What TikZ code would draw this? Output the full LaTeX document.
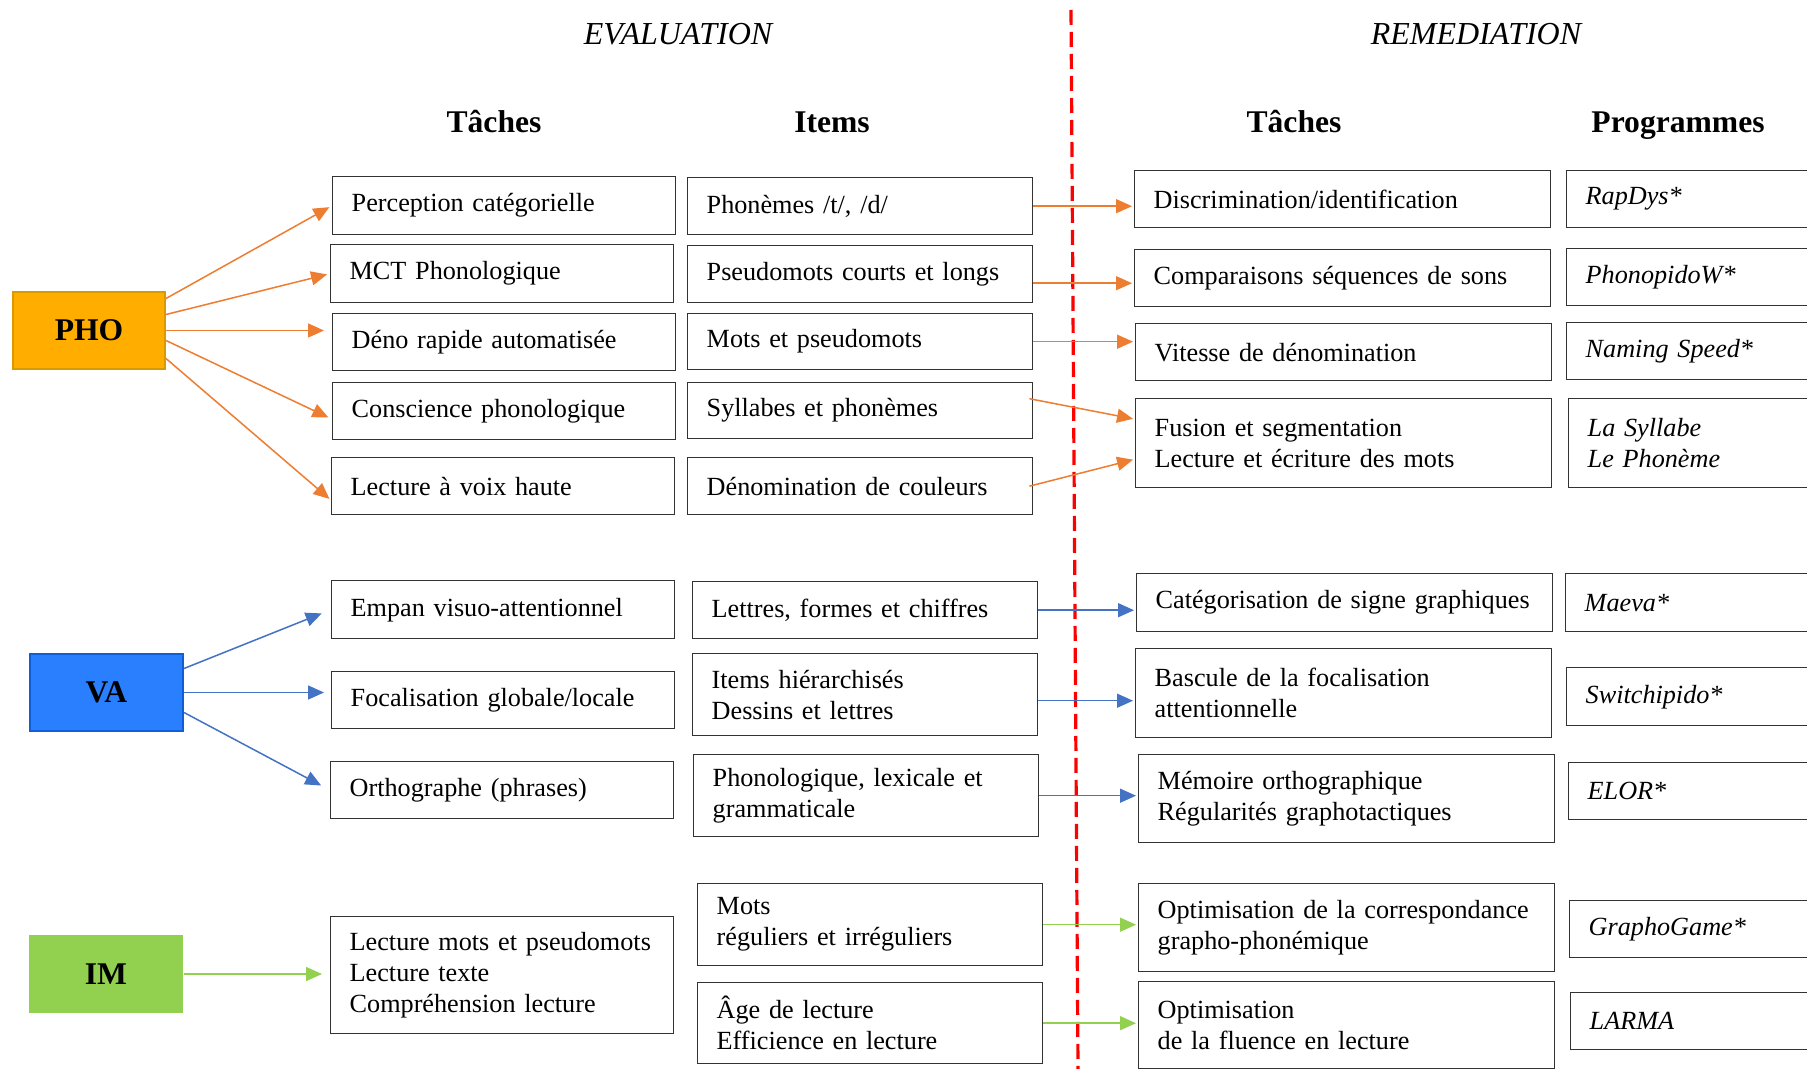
\documentclass[tikz,border=0pt]{standalone}
\usepackage{fontspec}
\setmainfont{Liberation Serif}
\usetikzlibrary{arrows.meta,calc}
\definecolor{orangeF}{HTML}{ED7D31}
\definecolor{bleuF}{HTML}{4472C4}
\definecolor{vertF}{HTML}{92D050}
\definecolor{phoFond}{HTML}{FFAE00}
\definecolor{phoBord}{HTML}{D99A00}
\definecolor{vaFond}{HTML}{2A7FFF}
\definecolor{vaBord}{HTML}{0F5FD6}
\newcommand{\corps}{\fontsize{13.1pt}{15.5pt}\selectfont}
\tikzset{
  cadre/.style={rectangle,draw=black!80,line width=0.7pt,anchor=north west,align=left,inner xsep=9.5pt,inner ysep=0pt,font=\corps,
    execute at begin node={\hyphenpenalty=10000\exhyphenpenalty=10000}},
  tache/.style={cadre,text width=152.5pt},
  itembox/.style={cadre,text width=153.5pt},
  remed/.style={cadre,text width=189pt},
  prog/.style={cadre,text width=140pt,font=\corps\itshape},
  domaine/.style={rectangle,anchor=north west,line width=1pt,inner sep=0pt,font=\fontsize{15.8pt}{18pt}\selectfont\bfseries},
  entete/.style={anchor=base,font=\fontsize{15.8pt}{18pt}\selectfont\bfseries},
  partie/.style={anchor=base,font=\fontsize{16pt}{19pt}\selectfont\itshape},
  fleche/.style={-{Triangle[length=8pt,width=7pt]},line width=0.75pt,shorten >=1pt},
  tirets/.style={draw=red,line width=1.6pt,dash pattern=on 7.5pt off 3.5pt},
}

\begin{document}
\begin{tikzpicture}[x=0.5pt,y=-0.5pt]
  \useasboundingbox (0,0) rectangle (1807,1069);
  \clip (0,0) rectangle (1807,1069);

  % titres
  \node[partie] (eval) at (678,45) {EVALUATION};
  \node[partie] (rem) at (1476,45) {REMEDIATION};
  \node[entete] (hT1) at (494,133) {Tâches};
  \node[entete] (hI) at (832,133) {Items};
  \node[entete] (hT2) at (1294,133) {Tâches};
  \node[entete] (hP) at (1678,133) {Programmes};

  \coordinate (sepH) at (1071,10);
  \coordinate (sepB) at (1078,1069);
  \draw[tirets] (sepH) -- (sepB);

  % domaines
  \node[domaine,fill=phoFond,draw=phoBord,minimum width=76pt,minimum height=38.5pt] (pho) at (12,291) {PHO};
  \node[domaine,fill=vaFond,draw=vaBord,minimum width=76.5pt,minimum height=38.5pt] (va) at (29,653) {VA};
  \node[domaine,fill=vertF,minimum width=77pt,minimum height=39pt] (im) at (28,934) {IM};

  % evaluation : taches
  \node[tache,minimum height=29pt] (e1) at (332,176) {Perception catégorielle};
  \node[tache,minimum height=29pt] (e2) at (330,244) {MCT Phonologique};
  \node[tache,minimum height=28.5pt] (e3) at (332,313) {Déno rapide automatisée};
  \node[tache,minimum height=28.5pt] (e4) at (332,382) {Conscience phonologique};
  \node[tache,minimum height=28.5pt] (e5) at (331,457) {Lecture à voix haute};
  \node[tache,minimum height=29pt] (e6) at (331,580) {Empan visuo-attentionnel};
  \node[tache,minimum height=28.5pt] (e7) at (331,671) {Focalisation globale/locale};
  \node[tache,minimum height=28.5pt] (e8) at (330,761) {Orthographe (phrases)};
  \node[tache,minimum height=58.5pt] (e9) at (330,916) {Lecture mots et pseudomots\\Lecture texte\\Compréhension lecture};

  % evaluation : items
  \node[itembox,minimum height=28.5pt] (i1) at (687,177) {Phonèmes /t/, /d/};
  \node[itembox,minimum height=28.5pt] (i2) at (687,245) {Pseudomots courts et longs};
  \node[itembox,minimum height=28pt] (i3) at (687,313) {Mots et pseudomots};
  \node[itembox,minimum height=28pt] (i4) at (687,382) {Syllabes et phonèmes};
  \node[itembox,minimum height=28.5pt] (i5) at (687,457) {Dénomination de couleurs};
  \node[itembox,minimum height=28.5pt] (i6) at (692,581) {Lettres, formes et chiffres};
  \node[itembox,minimum height=41pt] (i7) at (692,653) {Items hiérarchisés\\Dessins et lettres};
  \node[itembox,minimum height=41pt] (i8) at (693,754) {Phonologique, lexicale et\\grammaticale};
  \node[itembox,minimum height=41pt] (i9) at (697,883) {Mots\\réguliers et irréguliers};
  \node[itembox,minimum height=40.5pt] (i10) at (697,982) {Âge de lecture\\Efficience en lecture};

  % remediation : taches
  \node[remed,minimum height=28.5pt] (r1) at (1134,170) {Discrimination/identification};
  \node[remed,minimum height=28.5pt] (r2) at (1134,249) {Comparaisons séquences de sons};
  \node[remed,minimum height=28.5pt] (r3) at (1135,323) {Vitesse de dénomination};
  \node[remed,minimum height=44.5pt] (r4) at (1135,398) {Fusion et segmentation\\Lecture et écriture des mots};
  \node[remed,minimum height=29pt] (r5) at (1136,573) {Catégorisation de signe graphiques};
  \node[remed,minimum height=44.5pt] (r6) at (1135,648) {Bascule de la focalisation\\attentionnelle};
  \node[remed,minimum height=44pt] (r7) at (1138,754) {Mémoire orthographique\\Régularités graphotactiques};
  \node[remed,minimum height=44pt] (r8) at (1138,883) {Optimisation de la correspondance\\grapho-phonémique};
  \node[remed,minimum height=43.5pt] (r9) at (1138,981) {Optimisation\\de la fluence en lecture};

  % remediation : programmes
  \node[prog,minimum height=28.5pt] (p1) at (1566,170) {RapDys*};
  \node[prog,minimum height=28.5pt] (p2) at (1566,248) {PhonopidoW*};
  \node[prog,minimum height=28.5pt] (p3) at (1566,322) {Naming Speed*};
  \node[prog,minimum height=44.5pt] (p4) at (1568,398) {La Syllabe\\Le Phonème};
  \node[prog,minimum height=29pt] (p5) at (1565,573) {Maeva*};
  \node[prog,minimum height=29pt] (p6) at (1566,667) {Switchipido*};
  \node[prog,minimum height=28.5pt] (p7) at (1568,762) {ELOR*};
  \node[prog,minimum height=28.5pt] (p8) at (1569,900) {GraphoGame*};
  \node[prog,minimum height=28.5pt] (p9) at (1570,992) {LARMA};

  % fleches PHO
  \draw[fleche,orangeF,shorten >=1.5pt] ($(pho.east)+(0,16pt)$) -- (e1.west);
  \draw[fleche,orangeF,shorten >=1.5pt] ($(pho.east)+(0,8pt)$) -- (e2.west);
  \draw[fleche,orangeF,shorten >=4pt] (pho.east) -- (pho.east -| e3.west);
  \draw[fleche,orangeF,shorten >=2pt] ($(pho.east)+(0,-5pt)$) -- ($(e4.west)+(0,-4pt)$);
  \draw[fleche,orangeF,shorten >=1pt] ($(pho.east)+(0,-14pt)$) -- ($(e5.west)+(0,-7pt)$);

  % fleches VA et IM
  \draw[fleche,bleuF,shorten >=5pt] ($(va.east)+(0,12pt)$) -- (e6.west);
  \draw[fleche,bleuF,shorten >=3.5pt] (va.east) -- (va.east -| e7.west);
  \draw[fleche,bleuF,shorten >=5pt] ($(va.east)+(0,-10pt)$) -- (e8.west);
  \draw[fleche,vertF,shorten >=4pt] (im.east) -- (im.east -| e9.west);

  % items vers remediation
  \coordinate (a2) at ($(i2.east)+(0,-4.5pt)$);
  \coordinate (a4) at ($(i4.east)+(-2pt,6pt)$);
  \coordinate (a5) at ($(i5.east)+(-2pt,0)$);
  \coordinate (b7) at ($(i7.east)+(0,-3pt)$);
  \draw[fleche,orangeF] (i1.east) -- (i1.east -| r1.west);
  \draw[fleche,orangeF] (a2) -- (a2 -| r2.west);
  \draw[fleche,orangeF] (i3.east) -- (i3.east -| r3.west);
  \draw[fleche,orangeF] (a4) -- ($(r4.west)+(0,12pt)$);
  \draw[fleche,orangeF] (a5) -- ($(r4.west)+(0,-8pt)$);
  \draw[fleche,bleuF] (i6.east) -- (i6.east -| r5.west);
  \draw[fleche,bleuF] (b7) -- (b7 -| r6.west);
  \draw[fleche,bleuF] (i8.east) -- (i8.east -| r7.west);
  \draw[fleche,vertF] (i9.east) -- (i9.east -| r8.west);
  \draw[fleche,vertF] (i10.east) -- (i10.east -| r9.west);
\end{tikzpicture}
\end{document}
